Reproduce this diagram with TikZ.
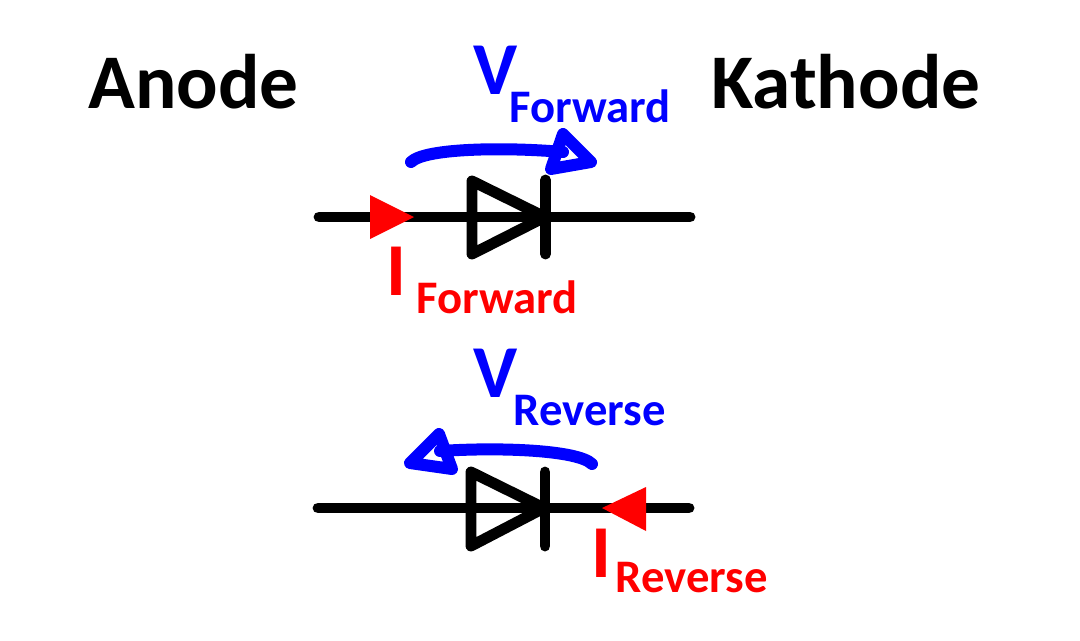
\documentclass[tikz,border=0pt]{standalone}
\usepackage{fontspec}
\setmainfont{Carlito}
\definecolor{voltblue}{RGB}{0,0,255}
\definecolor{currred}{RGB}{255,0,0}
\tikzset{
  wire/.style={line width=8.2pt, line cap=round, line join=round, black},
  volt/.style={line width=9pt, line cap=round, line join=round, voltblue},
  curr/.style={fill=currred, draw=none},
  txt/.style={anchor=base west, inner sep=0pt, font=\bfseries\fontsize{#1}{#1}\selectfont},
}
\begin{document}
\begin{tikzpicture}[x=0.75pt, y=-0.75pt]
    \useasboundingbox (0,0) rectangle (1080,640);

    % Terminal names
    \node[txt=58] (anode) at (88,108.5) {Anode};
    \node[txt=58] (kathode) at (711,108.5) {Kathode};

    % Forward diode
    \coordinate (fwdL) at (319,217);
    \coordinate (fwdR) at (690,217);
    \draw[wire] (fwdL) -- (fwdR);
    \draw[wire] (472,181) -- (545,217) -- (472,254) -- cycle;
    \draw[wire] (545.5,180) -- (545.5,254);
    \fill[curr] (370,195) -- (414,217) -- (370,239) -- cycle;

    % Forward voltage arrow
    \draw[volt] (411,162) .. controls (425,148) and (505,147) .. (563,152);
    \draw[volt] (563,134) -- (591,162) -- (551,169) -- cycle;
    \node[txt=56, text=voltblue] (vfwd) at (473,94) {V};
    \node[txt=35, text=voltblue] (vfwdsub) at (509.5,122.5) {Forward};
    \node[txt=56, text=currred] (ifwd) at (386,295.5) {I};
    \node[txt=35, text=currred] (ifwdsub) at (416.5,313.5) {Forward};

    % Reverse diode
    \coordinate (revL) at (318,508);
    \coordinate (revR) at (689,508);
    \draw[wire] (revL) -- (revR);
    \draw[wire] (471,472) -- (544,508) -- (471,546) -- cycle;
    \draw[wire] (545,472) -- (545,546);
    \fill[curr] (646,487) -- (602,508) -- (646,531) -- cycle;

    % Reverse voltage arrow
    \draw[volt] (592,464) .. controls (578,450) and (500,447) .. (440,451);
    \draw[volt] (439,434) -- (410,463) -- (452,469) -- cycle;
    \node[txt=56, text=voltblue] (vrev) at (473,397.5) {V};
    \node[txt=35, text=voltblue] (vrevsub) at (513.5,425.5) {Reverse};
    \node[txt=56, text=currred] (irev) at (591,577.5) {I};
    \node[txt=35, text=currred] (irevsub) at (615.5,592.5) {Reverse};
\end{tikzpicture}
\end{document}
